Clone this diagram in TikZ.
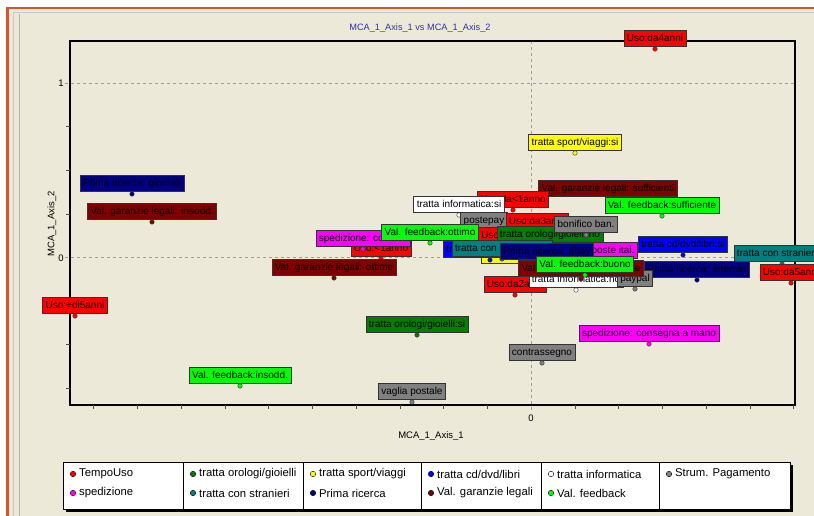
\documentclass[tikz,border=0pt]{standalone}
\usepackage{fontspec}
\setmainfont{Liberation Sans}
\usetikzlibrary{positioning}

\definecolor{winbg}{RGB}{236,233,216}
\definecolor{winframe}{RGB}{214,86,44}
\definecolor{titleblue}{RGB}{45,45,200}
\definecolor{uso}{RGB}{255,0,0}
\definecolor{sped}{RGB}{255,0,255}
\definecolor{orol}{RGB}{0,128,0}
\definecolor{stran}{RGB}{0,128,128}
\definecolor{sport}{RGB}{255,255,0}
\definecolor{prima}{RGB}{0,0,128}
\definecolor{cdvd}{RGB}{0,0,255}
\definecolor{garan}{RGB}{128,0,0}
\definecolor{info}{RGB}{255,255,255}
\definecolor{feed}{RGB}{0,255,0}
\definecolor{strum}{RGB}{128,128,128}

% point marker + its label box
\newcommand{\mcapt}[5]{%
  \node[pt, fill=#4] (#1p) at (#2,#3) {};
  \node[lbl, fill=#4] (#1) at (#1p.center) {#5};}

\begin{document}
\begin{tikzpicture}[x=1pt, y=-1pt,
  lbl/.style={draw=black!80, line width=.6pt, anchor=south, yshift=2pt, inner xsep=3pt, inner ysep=0pt,
    minimum height=16pt, text height=7.5pt, text depth=2pt, font=\fontsize{10}{12}\selectfont},
  pt/.style={circle, draw=black!80, line width=.4pt, inner sep=0pt, minimum size=4.5pt},
  grid/.style={gray!75, dash pattern=on 3pt off 3pt, line width=.7pt},
  legdot/.style={circle, draw=black, line width=.4pt, inner sep=0pt, minimum size=5.5pt},
  legtxt/.style={inner sep=1pt, font=\fontsize{11.3}{13}\selectfont},
  axtxt/.style={font=\fontsize{9.5}{11}\selectfont}]
\useasboundingbox (0,0) rectangle (814,516);
% window
\fill[white] (0,0) rectangle (814,516);
\fill[winbg] (8,8) rectangle (814,516);
\draw[winframe, line width=2.5pt] (7.5,516) -- (7.5,8) -- (814,8);
\draw[black!22, line width=.8pt] (13,516) -- (13,12) -- (814,12);
\draw[black!30, line width=.8pt] (19,516) -- (19,14);

\node[font=\fontsize{9.2}{11}\selectfont, text=titleblue] (title) at (420,28) {MCA\_1\_Axis\_1 vs MCA\_1\_Axis\_2};

% grid and axes
\draw[grid] (65,83) -- (795,83);
\draw[grid] (65,257) -- (795,257);
\draw[grid] (531,41) -- (531,411);
\draw[line width=1.5pt] (70,41) rectangle (795,405);
\foreach \k in {1,2,3,5,6,7} \draw[black!70] (66,83+43.6*\k) -- (70,83+43.6*\k);
\foreach \k in {-10,...,-1,1,2,...,6} \draw[black!70] (531+43.75*\k,405) -- (531+43.75*\k,409);
\node[axtxt] (y1) at (61,83) {1};
\node[axtxt] (y0) at (61,258) {0};
\node[axtxt] (x0) at (531,418) {0};
\node[axtxt] (xlab) at (431,436) {MCA\_1\_Axis\_1};
\node[axtxt, rotate=90] (ylab) at (52,224) {MCA\_1\_Axis\_2};

% labelled points
\mcapt{da4}{655}{49}{uso}{Uso:da4anni}
\mcapt{sportsi}{575}{153}{sport}{tratta sport/viaggi:si}
\mcapt{giornali}{132}{194}{prima}{Prima ricerca: giornali}
\mcapt{insoddg}{152}{222}{garan}{Val. garanzie legali: insodd.}
\mcapt{suffg}{608}{199}{garan}{Val. garanzie legali: sufficienti}
\mcapt{fbsuff}{662}{216}{feed}{Val. feedback:sufficiente}
\mcapt{da0}{513}{210}{uso}{Uso:da<1anno}
\mcapt{infosi}{459}{215}{info}{tratta informatica:si}
\mcapt{postepay}{484}{231}{strum}{postepay}
\mcapt{da1}{511}{246}{uso}{Uso:da1anno}
\mcapt{da3}{537}{232}{uso}{Uso:da3anni}
\mcapt{orologino}{550}{245}{orol}{tratta orologi/gioielli:no}
\mcapt{bonifico}{586}{235}{strum}{bonifico ban.}
\mcapt{meno1}{381}{259}{uso}{Uso:<1anno}
\mcapt{corriere}{363}{249}{sped}{spedizione: corriere}
\mcapt{fbottimo}{430}{243}{feed}{Val. feedback:ottimo}
\mcapt{sportno}{530}{266}{sport}{tratta sport/viaggi:no}
\mcapt{cdno}{490}{260}{cdvd}{tratta cd/dvd/libri:no}
\mcapt{strno}{502}{259}{stran}{tratta con stranieri:no}
\mcapt{posteital}{613}{261}{sped}{poste ital.}
\mcapt{ebay}{547}{262}{prima}{Prima ricerca: ebay}
\mcapt{cdsi}{683}{255}{cdvd}{tratta cd/dvd/libri:si}
\mcapt{strsi}{782}{264}{stran}{tratta con stranieri:si}
\mcapt{internet}{697}{280}{prima}{Prima ricerca: internet}
\mcapt{da5}{791}{283}{uso}{Uso:da5anni}
\mcapt{da2}{515}{295}{uso}{Uso:da2anni}
\mcapt{infono}{576}{290}{info}{tratta informatica:no}
\mcapt{paypal}{635}{289}{strum}{paypal}
\mcapt{buone}{581}{279}{garan}{Val. garanzie legali: buone}
\mcapt{fbbuono}{585}{275}{feed}{Val. feedback:buono}
\mcapt{ottime}{334}{278}{garan}{Val. garanzie legali: ottime}
\mcapt{orologisi}{417}{335}{orol}{tratta orologi/gioielli:si}
\mcapt{mano}{649}{344}{sped}{spedizione: consegna a mano}
\mcapt{contrassegno}{542}{363}{strum}{contrassegno}
\mcapt{fbinsodd}{240}{386}{feed}{Val. feedback:insodd.}
\mcapt{vaglia}{412}{402}{strum}{vaglia postale}
\mcapt{di5}{75}{316}{uso}{Uso:+di5anni}

% legend
\fill[black] (66,465) rectangle (793,512);
\filldraw[fill=white, draw=black, line width=.6pt] (63,462) rectangle (790,509);
\foreach \xd in {183,303,421,541,659} \draw[black, line width=.6pt] (\xd,462) -- (\xd,509);
\node[legdot, fill=uso] (lg1) at (73,474) {};
\node[legtxt, right=2pt of lg1] (lt1) {TempoUso};
\node[legdot, fill=sped] (lg2) at (73,493) {};
\node[legtxt, right=2pt of lg2] (lt2) {spedizione};
\node[legdot, fill=orol] (lg3) at (193,474) {};
\node[legtxt, right=2pt of lg3] (lt3) {tratta orologi/gioielli};
\node[legdot, fill=stran] (lg4) at (193,493) {};
\node[legtxt, right=2pt of lg4] (lt4) {tratta con stranieri};
\node[legdot, fill=sport] (lg5) at (313,474) {};
\node[legtxt, right=2pt of lg5] (lt5) {tratta sport/viaggi};
\node[legdot, fill=prima] (lg6) at (313,493) {};
\node[legtxt, right=2pt of lg6] (lt6) {Prima ricerca};
\node[legdot, fill=cdvd] (lg7) at (431,474) {};
\node[legtxt, right=2pt of lg7] (lt7) {tratta cd/dvd/libri};
\node[legdot, fill=garan] (lg8) at (431,493) {};
\node[legtxt, right=2pt of lg8] (lt8) {Val. garanzie legali};
\node[legdot, fill=info] (lg9) at (551,474) {};
\node[legtxt, right=2pt of lg9] (lt9) {tratta informatica};
\node[legdot, fill=feed] (lg10) at (551,493) {};
\node[legtxt, right=2pt of lg10] (lt10) {Val. feedback};
\node[legdot, fill=strum] (lg11) at (669,474) {};
\node[legtxt, right=2pt of lg11] (lt11) {Strum. Pagamento};
\end{tikzpicture}
\end{document}
